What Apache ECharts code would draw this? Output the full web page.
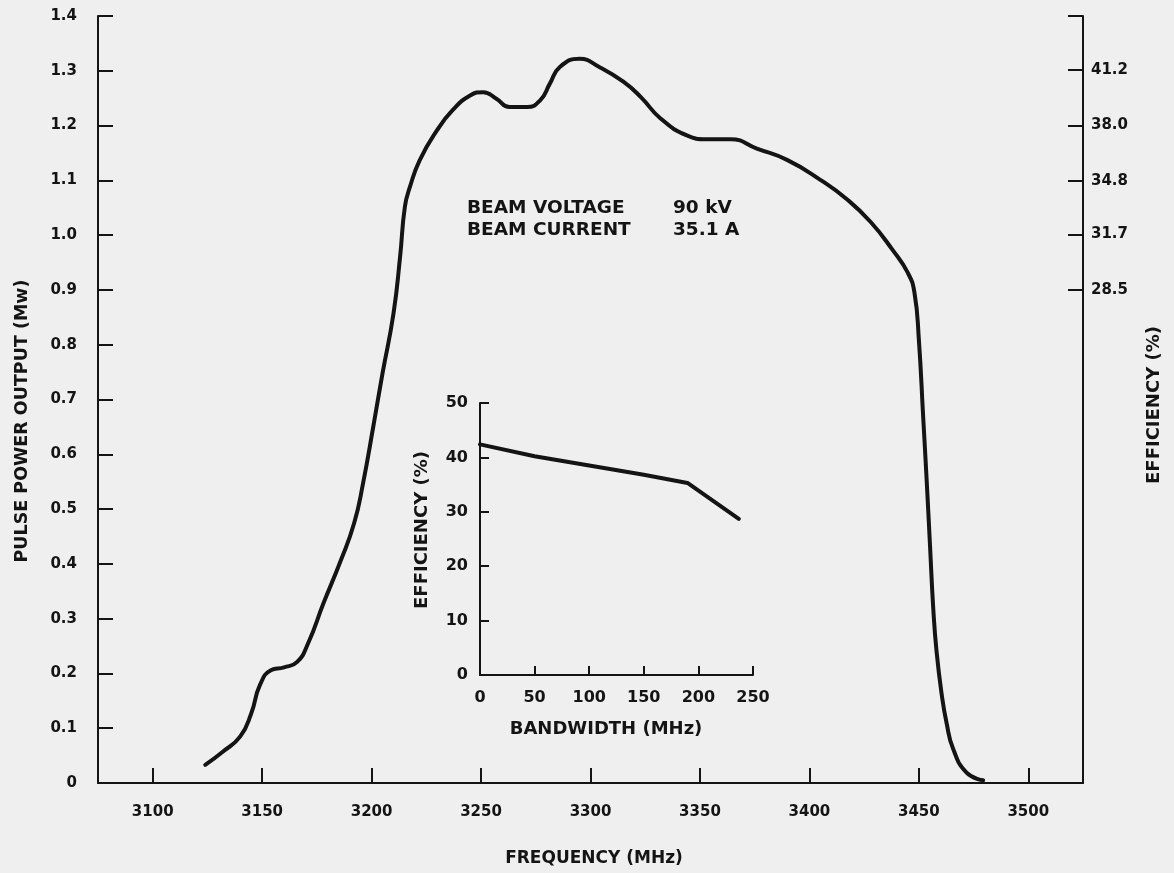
<!DOCTYPE html>
<html>
<head>
<meta charset="utf-8">
<script src="https://cdn.jsdelivr.net/npm/echarts@6/dist/echarts.min.js"></script>
<style>
html,body{margin:0;padding:0;background:#efefef;}
#chart{width:1174px;height:873px;}
</style>
</head>
<body>
<div id="chart"></div>
<script>
// ---- Main curve: pulse power output vs frequency ----
const freqMHz = [3124,3132,3140,3145,3149,3154,3160,3166,3171,3178,3186,3192,3196,3201,3205,3210,3213,3215.2,3217.5,3222,3230,3237,3245,3251,3257,3263,3271,3277,3281.5,3286,3295,3304,3315,3323,3332,3344,3353,3364,3376,3390,3405,3417,3428,3438,3445,3448,3450,3452,3453.6,3455.1,3456.6,3458.1,3460.4,3462.7,3465.7,3471.8,3479.4];
const powerMW = [0.033,0.057,0.085,0.127,0.179,0.206,0.211,0.221,0.255,0.328,0.407,0.474,0.545,0.656,0.748,0.857,0.960,1.052,1.088,1.137,1.192,1.228,1.255,1.261,1.249,1.234,1.234,1.246,1.277,1.307,1.322,1.307,1.280,1.252,1.213,1.182,1.175,1.175,1.158,1.137,1.101,1.066,1.024,0.973,0.931,0.895,0.810,0.667,0.551,0.434,0.318,0.240,0.163,0.109,0.062,0.019,0.005];

// ---- Inset: efficiency vs bandwidth ----
const bandwidthMHz = [0,50,100,150,190,237];
const efficiencyPct = [42.4,40.2,38.5,36.8,35.3,28.7];

// ---- Tick labels ----
const freqTicks = [3100,3150,3200,3250,3300,3350,3400,3450,3500];
const powerTicks = [0,0.1,0.2,0.3,0.4,0.5,0.6,0.7,0.8,0.9,1.0,1.1,1.2,1.3,1.4];
const effTicks = [28.5,31.7,34.8,38.0,41.2];
const insetXTicks = [0,50,100,150,200,250];
const insetYTicks = [0,10,20,30,40,50];

// ---- Operating point ----
const beamVoltageKV = 90;
const beamCurrentA = 35.1;

const FONT = "'DejaVu Sans', Verdana, sans-serif";
const INK = '#141414';
const powerMax = 1.4;
const effMax = powerMax / (beamVoltageKV * beamCurrentA / 1000) * 100;

const chart = echarts.init(document.getElementById('chart'), null, {renderer: 'canvas'});

const lbl = (size) => ({color: INK, fontFamily: FONT, fontWeight: 'bold', fontSize: size});

const option = {
  backgroundColor: '#efefef',
  animation: false,
  grid: [
    {left: 98, right: 91, top: 16, bottom: 90},
    {left: 480, top: 403, width: 273, height: 272}
  ],
  xAxis: [
    {
      gridIndex: 0, type: 'value', min: 3075, max: 3525,
      axisLine: {show: true, lineStyle: {color: INK, width: 2}},
      axisTick: {show: true, inside: true, length: 15, customValues: freqTicks, lineStyle: {color: INK, width: 2}},
      axisLabel: Object.assign({customValues: freqTicks, margin: 22, formatter: v => String(v)}, lbl(15)),
      splitLine: {show: false}
    },
    {
      gridIndex: 1, type: 'value', min: 0, max: 250, interval: 50,
      axisLine: {show: true, lineStyle: {color: INK, width: 2}},
      axisTick: {show: true, inside: true, length: 9, customValues: insetXTicks, lineStyle: {color: INK, width: 2}},
      axisLabel: Object.assign({customValues: insetXTicks, margin: 15, formatter: v => String(v)}, lbl(16)),
      splitLine: {show: false}
    }
  ],
  yAxis: [
    {
      gridIndex: 0, type: 'value', min: 0, max: powerMax, interval: 0.1,
      axisLine: {show: true, lineStyle: {color: INK, width: 2}},
      axisTick: {show: true, inside: true, length: 15, lineStyle: {color: INK, width: 2}},
      axisLabel: Object.assign({margin: 21, formatter: v => v === 0 ? '0' : v.toFixed(1), customValues: powerTicks}, lbl(15)),
      splitLine: {show: false}
    },
    {
      gridIndex: 0, type: 'value', position: 'right', min: 0, max: effMax,
      axisLine: {show: true, onZero: false, lineStyle: {color: INK, width: 2}},
      axisTick: {show: true, inside: true, length: 15, customValues: effTicks.concat([effMax]), lineStyle: {color: INK, width: 2}},
      axisLabel: Object.assign({margin: 8, formatter: v => v.toFixed(1), customValues: effTicks}, lbl(15)),
      splitLine: {show: false}
    },
    {
      gridIndex: 1, type: 'value', min: 0, max: 50, interval: 10,
      axisLine: {show: true, lineStyle: {color: INK, width: 2}},
      axisTick: {show: true, inside: true, length: 9, customValues: insetYTicks, lineStyle: {color: INK, width: 2}},
      axisLabel: Object.assign({margin: 12, customValues: insetYTicks}, lbl(16)),
      splitLine: {show: false}
    }
  ],
  series: [
    {
      type: 'line', xAxisIndex: 0, yAxisIndex: 0, smooth: 0.5, symbol: 'none',
      lineStyle: {color: INK, width: 4, cap: 'round', join: 'round'},
      data: freqMHz.map((f, i) => [f, powerMW[i]])
    },
    {
      type: 'line', xAxisIndex: 1, yAxisIndex: 2, smooth: false, symbol: 'none',
      lineStyle: {color: INK, width: 4, cap: 'round', join: 'round'},
      data: bandwidthMHz.map((b, i) => [b, efficiencyPct[i]])
    }
  ],
  graphic: [
    {type: 'text', x: 22, y: 421, rotation: Math.PI / 2,
      style: {text: 'PULSE POWER OUTPUT (Mw)', x: 0, y: 0, align: 'center', verticalAlign: 'middle', fill: INK, font: 'bold 17.5px ' + FONT}},
    {type: 'text', x: 1154, y: 405, rotation: Math.PI / 2,
      style: {text: 'EFFICIENCY (%)', x: 0, y: 0, align: 'center', verticalAlign: 'middle', fill: INK, font: 'bold 18px ' + FONT}},
    {type: 'text', x: 594, y: 859,
      style: {text: 'FREQUENCY (MHz)', x: 0, y: 0, align: 'center', verticalAlign: 'middle', fill: INK, font: 'bold 17px ' + FONT}},
    {type: 'text', x: 422, y: 530, rotation: Math.PI / 2,
      style: {text: 'EFFICIENCY (%)', x: 0, y: 0, align: 'center', verticalAlign: 'middle', fill: INK, font: 'bold 18px ' + FONT}},
    {type: 'text', x: 606, y: 729,
      style: {text: 'BANDWIDTH (MHz)', x: 0, y: 0, align: 'center', verticalAlign: 'middle', fill: INK, font: 'bold 18px ' + FONT}},
    {type: 'text', x: 467, y: 208,
      style: {text: 'BEAM VOLTAGE', x: 0, y: 0, align: 'left', verticalAlign: 'middle', fill: INK, font: 'bold 18.5px ' + FONT}},
    {type: 'text', x: 673, y: 208,
      style: {text: beamVoltageKV + ' kV', x: 0, y: 0, align: 'left', verticalAlign: 'middle', fill: INK, font: 'bold 18.5px ' + FONT}},
    {type: 'text', x: 467, y: 230,
      style: {text: 'BEAM CURRENT', x: 0, y: 0, align: 'left', verticalAlign: 'middle', fill: INK, font: 'bold 18.5px ' + FONT}},
    {type: 'text', x: 673, y: 230,
      style: {text: beamCurrentA + ' A', x: 0, y: 0, align: 'left', verticalAlign: 'middle', fill: INK, font: 'bold 18.5px ' + FONT}}
  ]
};

chart.setOption(option);
</script>
</body>
</html>
